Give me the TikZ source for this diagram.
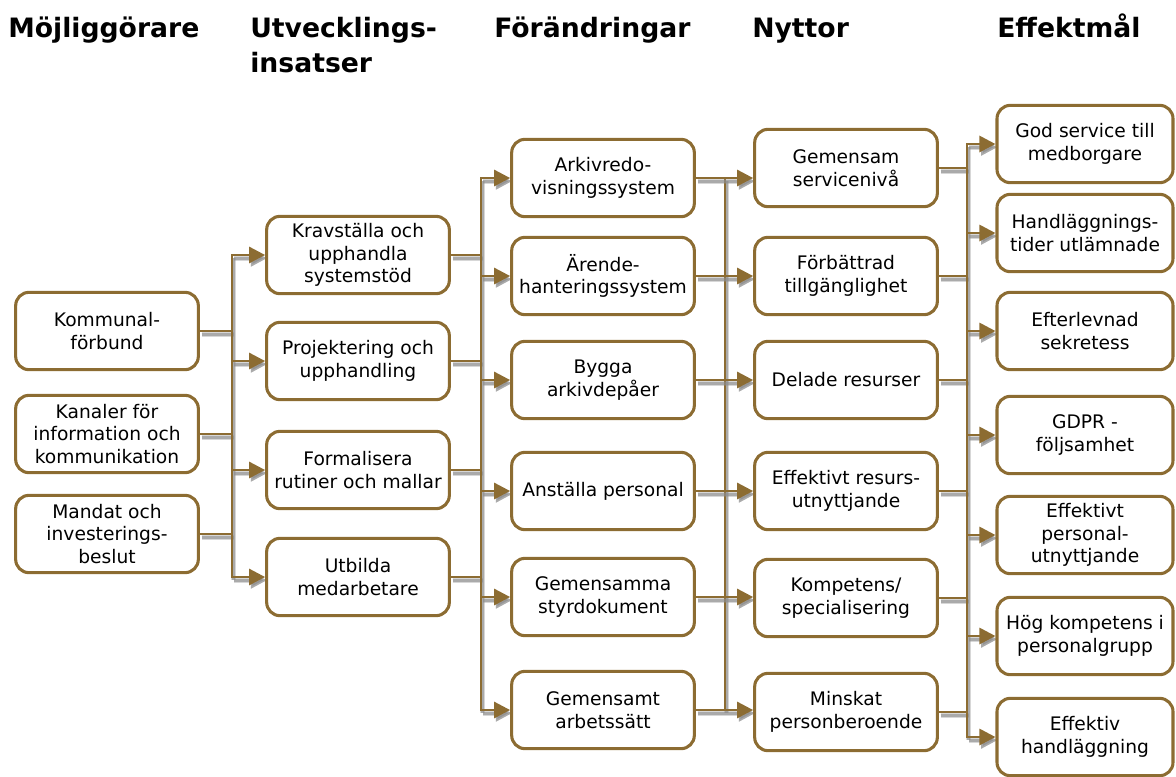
\documentclass[tikz,border=0pt]{standalone}
\usepackage{fontspec}
\setmainfont{DejaVu Sans}
\usetikzlibrary{arrows.meta,backgrounds}

\definecolor{brun}{RGB}{140,108,50}
\definecolor{skugga}{RGB}{140,140,140}

\tikzset{
  ruta/.style={draw=brun, line width=2.3pt, rounded corners=10pt, fill=white,
    minimum width=137pt, minimum height=58pt, align=center, inner sep=1pt,
    font=\fontsize{14}{16.8}\selectfont},
  smal/.style={ruta, minimum width=132pt},
  rubrik/.style={anchor=base west, align=left, inner sep=0pt,
    font=\bfseries\fontsize{20}{26}\selectfont},
  linje/.style={draw=brun, line width=2.1pt, line cap=rect,
    preaction={draw=skugga, line width=4pt, opacity=0.35,
      transform canvas={shift={(1.3pt,-2.4pt)}}},
    preaction={draw=skugga, line width=2.4pt, opacity=0.6,
      transform canvas={shift={(1.3pt,-2.4pt)}}}},
  pil/.style={linje, -{Triangle[length=12pt,width=12pt]}},
}

\begin{document}
\begin{tikzpicture}[x=0.75pt, y=-0.75pt]
    \path[use as bounding box] (0,0) rectangle (1176,776);

    % Rubriker
    \node[rubrik] (h1) at (8,37) {Möjliggörare};
    \node[rubrik] (h2) at (250,72) {Utvecklings-\\insatser};
    \node[rubrik] (h3) at (494,37) {Förändringar};
    \node[rubrik] (h4) at (752,37) {Nyttor};
    \node[rubrik] (h5) at (997,37) {Effektmål};

    % Möjliggörare
    \node[ruta] (m1) at (107,331) {Kommunal-\\förbund};
    \node[ruta] (m2) at (107,434) {Kanaler för\\information och\\kommunikation};
    \node[ruta] (m3) at (107,534) {Mandat och\\investerings-\\beslut};

    % Utvecklingsinsatser
    \node[ruta] (u1) at (358,255) {Kravställa och\\upphandla\\systemstöd};
    \node[ruta] (u2) at (358,361) {Projektering och\\upphandling};
    \node[ruta] (u3) at (358,470) {Formalisera\\rutiner och mallar};
    \node[ruta] (u4) at (358,577) {Utbilda\\medarbetare};

    % Förändringar
    \node[ruta] (f1) at (603,178) {Arkivredo-\\visningssystem};
    \node[ruta] (f2) at (603,276) {Ärende-\\hanteringssystem};
    \node[ruta] (f3) at (603,380) {Bygga\\arkivdepåer};
    \node[ruta] (f4) at (603,491) {Anställa personal};
    \node[ruta] (f5) at (603,597) {Gemensamma\\styrdokument};
    \node[ruta] (f6) at (603,710) {Gemensamt\\arbetssätt};

    % Nyttor
    \node[ruta] (n1) at (846,168) {Gemensam\\servicenivå};
    \node[ruta] (n2) at (846,276) {Förbättrad\\tillgänglighet};
    \node[ruta] (n3) at (846,380) {Delade resurser};
    \node[ruta] (n4) at (846,491) {Effektivt resurs-\\utnyttjande};
    \node[ruta] (n5) at (846,598) {Kompetens/\\specialisering};
    \node[ruta] (n6) at (846,712) {Minskat\\personberoende};

    % Effektmål
    \node[smal] (e1) at (1085,144) {God service till\\medborgare};
    \node[smal] (e2) at (1085,233) {Handläggnings-\\tider utlämnade};
    \node[smal] (e3) at (1085,331) {Efterlevnad\\sekretess};
    \node[smal] (e4) at (1085,435) {GDPR -\\följsamhet};
    \node[smal] (e5) at (1085,535) {Effektivt\\personal-\\utnyttjande};
    \node[smal] (e6) at (1085,636) {Hög kompetens i\\personalgrupp};
    \node[smal] (e7) at (1085,737) {Effektiv\\handläggning};

    % Samlingslinjer
    \coordinate (b1) at (232,0);
    \coordinate (b2) at (481,0);
    \coordinate (b3) at (725,0);
    \coordinate (b4) at (967,0);

    \begin{scope}[on background layer]
    % Möjliggörare -> Utvecklingsinsatser
    \foreach \i in {1,...,3}
        \draw[linje] (m\i.east) -- (m\i.east -| b1);
    \draw[linje] (b1 |- u1.west) -- (b1 |- u4.west);
    \foreach \i in {1,...,4}
        \draw[pil] (b1 |- u\i.west) -- (u\i.west);

    % Utvecklingsinsatser -> Förändringar
    \foreach \i in {1,...,4}
        \draw[linje] (u\i.east) -- (u\i.east -| b2);
    \draw[linje] (b2 |- f1.west) -- (b2 |- f6.west);
    \foreach \i in {1,...,6}
        \draw[pil] (b2 |- f\i.west) -- (f\i.west);

    % Förändringar -> Nyttor
    \draw[linje] (b3 |- f1.east) -- (b3 |- f6.east);
    \foreach \i in {1,...,6}
        \draw[pil] (f\i.east) -- (f\i.east -| n\i.west);

    % Nyttor -> Effektmål
    \foreach \i in {1,...,6}
        \draw[linje] (n\i.east) -- (n\i.east -| b4);
    \draw[linje] (b4 |- e1.west) -- (b4 |- e7.west);
    \foreach \i in {1,...,7}
        \draw[pil] (b4 |- e\i.west) -- (e\i.west);
    \end{scope}
\end{tikzpicture}
\end{document}
